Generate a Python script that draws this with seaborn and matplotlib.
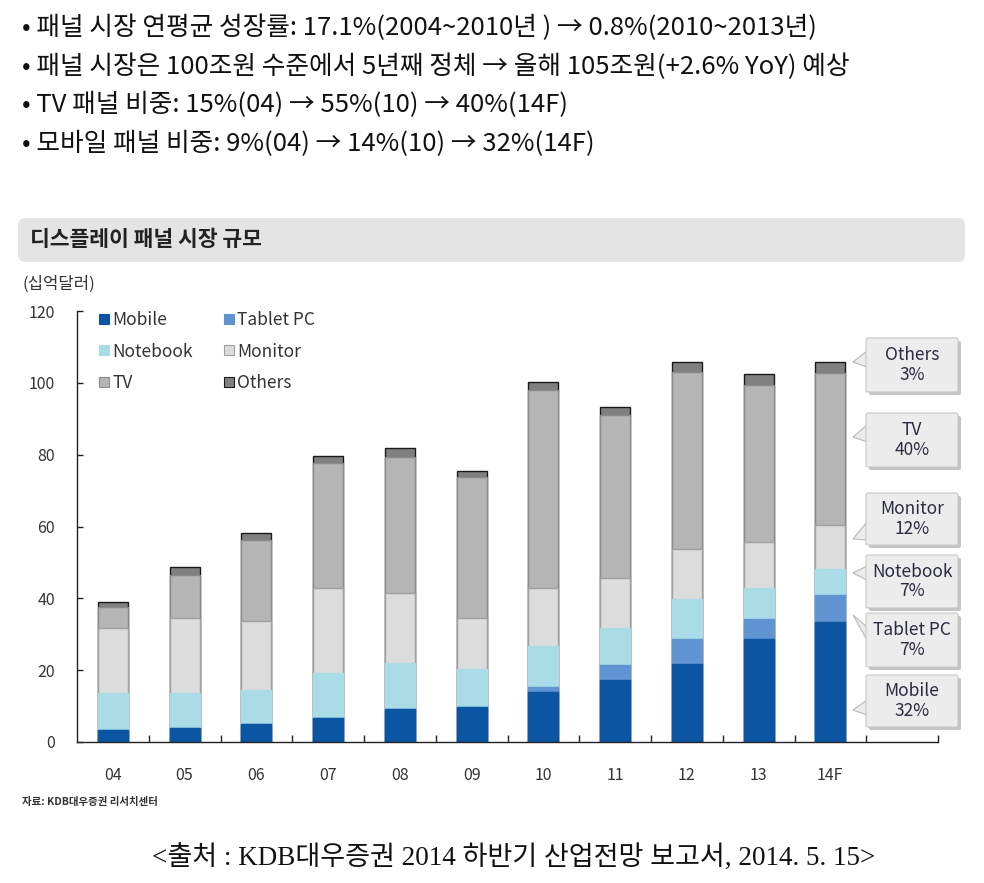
import matplotlib
matplotlib.use('Agg')
import matplotlib.pyplot as plt
from matplotlib.patches import FancyBboxPatch, Polygon
from matplotlib.lines import Line2D
import seaborn as sns
import pandas as pd
import numpy as np

# ================================================ DATA ===============================================================

YEARS = ['04', '05', '06', '07', '08', '09', '10', '11', '12', '13', '14F']
MOBILE = [3.3, 4.0, 4.9, 6.6, 9.3, 9.8, 14.0, 17.3, 21.6, 28.7, 33.3]
TABLET = [0.0, 0.0, 0.0, 0.0, 0.0, 0.0, 1.2, 4.0, 7.0, 5.6, 7.5]
NOTEBOOK = [10.3, 9.6, 9.6, 12.5, 12.8, 10.4, 11.5, 10.5, 11.1, 8.7, 7.4]
MONITOR = [18.2, 20.8, 19.2, 23.9, 19.3, 14.2, 16.1, 14.0, 13.9, 12.8, 12.2]
TV = [5.8, 12.1, 22.6, 34.6, 37.9, 39.5, 55.2, 45.3, 49.5, 43.6, 42.3]
OTHERS = [1.4, 2.1, 2.0, 2.1, 2.6, 1.6, 2.2, 2.3, 2.6, 3.1, 3.2]

SEGMENTS = ['Mobile', 'Tablet PC', 'Notebook', 'Monitor', 'TV', 'Others']
SHARE_14F = ['32%', '7%', '7%', '12%', '40%', '3%']
Y_TICKS = [0, 20, 40, 60, 80, 100, 120]

BULLETS = [
    '• 패널 시장 연평균 성장률: 17.1%(2004~2010년 ) → 0.8%(2010~2013년)',
    '• 패널 시장은 100조원 수준에서 5년째 정체 → 올해 105조원(+2.6% YoY) 예상',
    '• TV 패널 비중: 15%(04) → 55%(10) → 40%(14F)',
    '• 모바일 패널 비중: 9%(04) → 14%(10) → 32%(14F)',
]
TITLE = '디스플레이 패널 시장 규모'
UNIT = '(십억달러)'
SOURCE = '자료: KDB대우증권 리서치센터'
CAPTION = '<출처 : KDB대우증권 2014 하반기 산업전망 보고서, 2014. 5. 15>'

# ================================================ STYLE ==============================================================

COLORS = {'Mobile': '#0b55a3', 'Tablet PC': '#5f93d2', 'Notebook': '#a9dce6',
          'Monitor': '#dcdcdc', 'TV': '#b5b5b5', 'Others': '#808080'}
EDGES = {'Mobile': '#0b55a3', 'Tablet PC': '#5f93d2', 'Notebook': '#a9dce6',
         'Monitor': '#a0a0a0', 'TV': '#8a8a8a', 'Others': '#1a1a1a'}

W, H = 984, 883

sns.set_style('ticks')
plt.rcParams['font.family'] = ['Noto Sans CJK KR', 'DejaVu Sans']


def fx(px):
    return px / W


def fy(py):
    return 1 - py / H


# ================================================ FIGURE =============================================================

fig = plt.figure(figsize=(W / 100, H / 100), dpi=100)

# header bullets
for i, line in enumerate(BULLETS):
    fig.text(fx(22), fy(28 + i * 38.5), line, fontsize=18.5, color='#111111', va='center', ha='left')

# title bar
bar = FancyBboxPatch((fx(18), fy(262)), fx(965) - fx(18), fy(218) - fy(262),
                     boxstyle='round,pad=0,rounding_size=0.008', transform=fig.transFigure,
                     fc='#e4e4e4', ec='#e4e4e4', lw=0)
fig.patches.append(bar)
fig.text(fx(30), fy(240), TITLE, fontsize=15.5, fontweight='bold', color='#222222', va='center', ha='left')
fig.text(fx(22), fy(284), UNIT, fontsize=12, color='#333333', va='center', ha='left')

# chart
ax = fig.add_axes([fx(77), fy(742), fx(938) - fx(77), fy(311) - fy(742)])
df = pd.DataFrame({'year': YEARS, 'Mobile': MOBILE, 'Tablet PC': TABLET, 'Notebook': NOTEBOOK,
                   'Monitor': MONITOR, 'TV': TV, 'Others': OTHERS})
cum = df[SEGMENTS].cumsum(axis=1)
cum['year'] = df['year']

# stacked bars drawn as cumulative layers, top layer first
for seg in reversed(SEGMENTS):
    sns.barplot(data=cum, x='year', y=seg, order=YEARS, color=COLORS[seg], saturation=1,
                width=0.42, edgecolor=EDGES[seg], linewidth=1.0, errorbar=None, ax=ax)

ax.set_xlim(-0.5, 11.5)
ax.set_ylim(0, 120)
ax.set_yticks(Y_TICKS)
ax.set_xlabel('')
ax.set_ylabel('')
ax.set_xticks(range(len(YEARS)))
ax.set_xticklabels(YEARS)
ax.set_xticks(np.arange(0.5, 12, 1), minor=True)
ax.tick_params(axis='x', which='major', length=0, pad=18, labelsize=11.5, labelcolor='#333333')
ax.tick_params(axis='x', which='minor', direction='in', length=5, width=1, color='#222222')
ax.tick_params(axis='y', direction='in', length=4, width=1, pad=16, labelsize=11.5, labelcolor='#333333',
               color='#222222')
sns.despine(ax=ax)
for s in ['left', 'bottom']:
    ax.spines[s].set_color('#222222')
    ax.spines[s].set_linewidth(1.0)

# legend (column-major order for 2 columns)
handles = {}
for seg in SEGMENTS:
    handles[seg] = Line2D([], [], marker='s', linestyle='', markersize=7.5,
                          markerfacecolor=COLORS[seg], markeredgecolor=EDGES[seg], markeredgewidth=0.8)
order = ['Mobile', 'Notebook', 'TV', 'Tablet PC', 'Monitor', 'Others']
ax.legend([handles[s] for s in order], order, ncol=2, loc='upper left', bbox_to_anchor=(0.016, 1.017),
          frameon=False, fontsize=12.5, handlelength=0.7, handletextpad=0.15, columnspacing=1.7,
          labelspacing=0.8, borderaxespad=0, labelcolor='#333333')

# callout boxes for 14F share
CALLOUT_BOX = [(675, 727), (613, 667), (555, 608), (493, 545), (413, 467), (338, 392)]
CALLOUT_TIP = [((700, 715), 710), ((627, 640), 615), ((566, 580), 573), ((522, 540), 539),
               ((425, 442), 437), ((351, 367), 362)]
bx0, bx1, tipx = 866, 958, 853
for seg, share, (top, bot), ((b0, b1), ty) in zip(SEGMENTS, SHARE_14F, CALLOUT_BOX, CALLOUT_TIP):
    shadow = FancyBboxPatch((fx(bx0 + 3), fy(bot + 3)), fx(bx1) - fx(bx0), fy(top) - fy(bot),
                            boxstyle='round,pad=0,rounding_size=0.002', transform=fig.transFigure,
                            fc='#c4c4c4', ec='none', zorder=5)
    box = FancyBboxPatch((fx(bx0), fy(bot)), fx(bx1) - fx(bx0), fy(top) - fy(bot),
                         boxstyle='round,pad=0,rounding_size=0.002', transform=fig.transFigure,
                         fc='#ececec', ec='#c8c8c8', lw=0.8, zorder=6)
    tri = Polygon([(fx(bx0 + 1), fy(b0)), (fx(bx0 + 1), fy(b1)), (fx(tipx), fy(ty))], closed=True,
                  transform=fig.transFigure, fc='#ececec', ec='#b8b8b8', lw=0.8, zorder=5.5)
    fig.patches.extend([shadow, tri, box])
    fig.text(fx((bx0 + bx1) / 2), fy((top + bot) / 2), f'{seg}\n{share}', fontsize=12.5, color='#2b2b40',
             ha='center', va='center', linespacing=1.1, zorder=7)

# footer
fig.text(fx(22), fy(802), SOURCE, fontsize=7.5, fontweight='bold', color='#333333', va='center', ha='left')
fig.text(fx(514), fy(857), CAPTION, fontsize=19.5, color='#111111', va='center', ha='center',
         family=['Liberation Serif', 'Noto Sans CJK KR'])

fig.savefig('out.png', dpi=100, facecolor='white')
